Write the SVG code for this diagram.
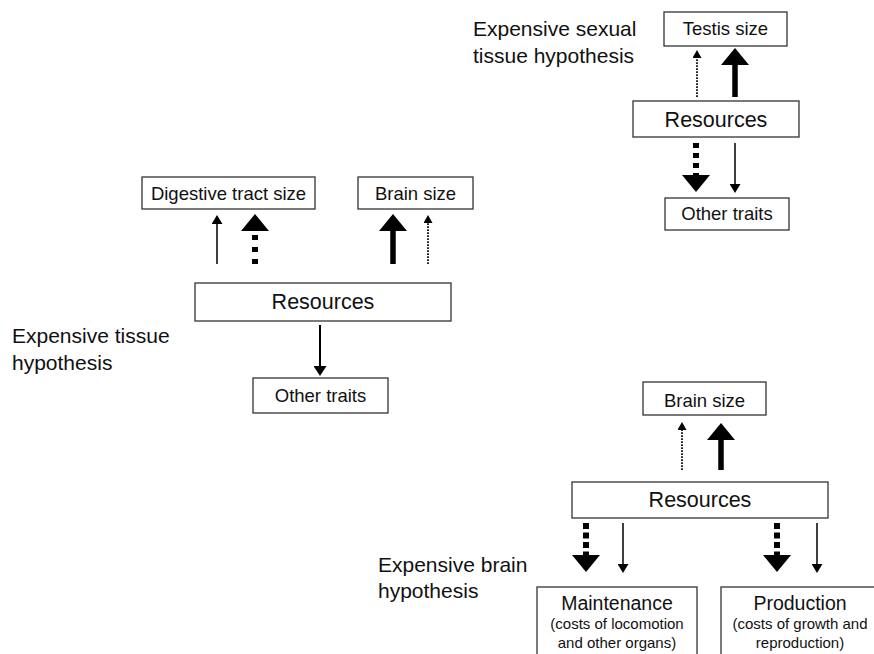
<svg xmlns="http://www.w3.org/2000/svg" width="874" height="654" viewBox="0 0 874 654">
<style>
text{font-family:"Liberation Sans",Arial,sans-serif;fill:#111;}
.box{fill:#fff;stroke:#333;stroke-width:1.3;}
.t{font-size:18.5px;text-anchor:middle;}
.r{font-size:21.5px;text-anchor:middle;}
.m{font-size:19.5px;text-anchor:middle;}
.s{font-size:15px;text-anchor:middle;}
.lab{font-size:21px;}
.thin{stroke:#000;stroke-width:1.5;fill:none;marker-end:url(#hThin);}
.med{stroke:#000;stroke-width:2;fill:none;marker-end:url(#hMed);}
.thick{stroke:#000;stroke-width:5.5;fill:none;marker-end:url(#hBig);}
.dash{stroke:#000;stroke-width:6;fill:none;stroke-dasharray:5 5;marker-end:url(#hBig);}
.dot{stroke:#000;stroke-width:1.7;fill:none;stroke-dasharray:1.7 1.3;marker-end:url(#hSmall);}
</style>
<defs>
<marker id="hBig" markerUnits="userSpaceOnUse" viewBox="0 -14 17 28" markerWidth="17" markerHeight="28" refX="0" refY="0" orient="auto"><path d="M0,-14L17,0L0,14z" fill="#000"/></marker>
<marker id="hThin" markerUnits="userSpaceOnUse" viewBox="0 -5.5 9 11" markerWidth="9" markerHeight="11" refX="0" refY="0" orient="auto"><path d="M0,-5.5L9,0L0,5.5z" fill="#000"/></marker>
<marker id="hMed" markerUnits="userSpaceOnUse" viewBox="0 -6.5 10 13" markerWidth="10" markerHeight="13" refX="0" refY="0" orient="auto"><path d="M0,-6.5L10,0L0,6.5z" fill="#000"/></marker>
<marker id="hSmall" markerUnits="userSpaceOnUse" viewBox="0 -4.5 8 9" markerWidth="8" markerHeight="9" refX="0" refY="0" orient="auto"><path d="M0,-4.5L8,0L0,4.5z" fill="#000"/></marker>
</defs>
<rect width="874" height="654" fill="#fff"/>

<g id="labels">
<text class="lab" x="473" y="36">Expensive sexual</text>
<text class="lab" x="473" y="63">tissue hypothesis</text>
<text class="lab" x="12" y="343">Expensive tissue</text>
<text class="lab" x="12" y="370">hypothesis</text>
<text class="lab" x="378" y="572">Expensive brain</text>
<text class="lab" x="378" y="598">hypothesis</text>
</g>

<g id="n-testis"><rect class="box" x="664" y="12" width="123" height="34"/><text class="t" x="725.5" y="35">Testis size</text></g>
<g id="n-res1"><rect class="box" x="633" y="101" width="166" height="36"/><text class="r" x="716" y="127">Resources</text></g>
<g id="n-other1"><rect class="box" x="665" y="198" width="124" height="32"/><text class="t" x="727" y="220">Other traits</text></g>

<g id="n-digest"><rect class="box" x="142" y="177" width="173" height="32"/><text class="t" x="228.5" y="200">Digestive tract size</text></g>
<g id="n-brain1"><rect class="box" x="358" y="177" width="115" height="32"/><text class="t" x="415.5" y="200">Brain size</text></g>
<g id="n-res2"><rect class="box" x="195" y="283" width="256" height="38"/><text class="r" x="323" y="309">Resources</text></g>
<g id="n-other2"><rect class="box" x="253" y="378" width="135" height="35"/><text class="t" x="320.5" y="402">Other traits</text></g>

<g id="n-brain2"><rect class="box" x="643" y="382" width="123" height="33"/><text class="t" x="704.5" y="407">Brain size</text></g>
<g id="n-res3"><rect class="box" x="572" y="482" width="256" height="36"/><text class="r" x="700" y="507">Resources</text></g>
<g id="n-maint"><rect class="box" x="537" y="587" width="160" height="80"/><text class="m" x="617" y="610">Maintenance</text><text class="s" x="617" y="629">(costs of locomotion</text><text class="s" x="617" y="648">and other organs)</text></g>
<g id="n-prod"><rect class="box" x="721" y="587" width="170" height="80"/><text class="m" x="800" y="610">Production</text><text class="s" x="800" y="629">(costs of growth and</text><text class="s" x="800" y="648">reproduction)</text></g>

<g id="connectors">
<path class="dot" d="M697,97V58"/>
<path class="thick" d="M735,97V65"/>
<path class="dash" d="M696,143V175"/>
<path class="thin" d="M735,143V184"/>

<path class="thin" d="M217,264V224"/>
<path class="dash" style="stroke-dasharray:5 7" d="M255,264V231"/>
<path class="thick" d="M393,264V231"/>
<path class="dot" d="M428,264V223"/>
<path class="med" d="M320,325V366"/>

<path class="dot" d="M682,470V430"/>
<path class="thick" d="M721,470V440"/>
<path class="dash" style="stroke-dasharray:6 3.5" d="M586,523V555"/>
<path class="thin" d="M623,523V564"/>
<path class="dash" style="stroke-dasharray:6 3.5" d="M777,523V555"/>
<path class="thin" d="M817,523V564"/>
</g>
</svg>
